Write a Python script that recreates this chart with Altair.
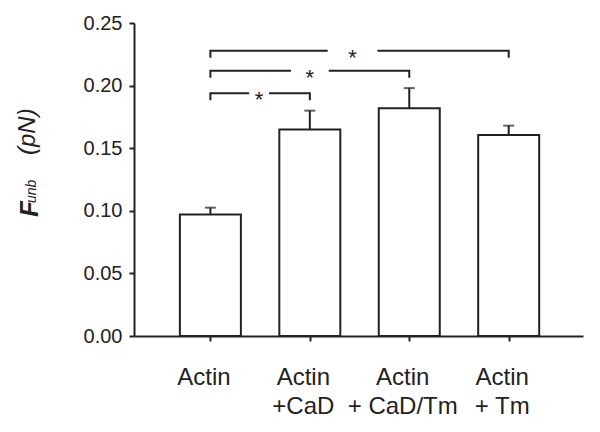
import altair as alt
import pandas as pd

# ---- data ----
groups = ["Actin", "Actin|+CaD", "Actin|+ CaD/Tm", "Actin|+ Tm"]
means = [0.097, 0.165, 0.182, 0.1605]
errors = [0.0055, 0.015, 0.016, 0.0075]

# significance brackets, all starting at group 0
bracket_to = [1, 2, 3]
bracket_level = [0.1938, 0.2119, 0.2279]
star_pos = [0.49, 1.0, 1.43]
gap_half = [0.10, 0.19, 0.25]
drop = 0.0056

y_ticks = [0.0, 0.05, 0.10, 0.15, 0.20, 0.25]

FONT = "Liberation Sans"
INK = "#222222"

# ---- tables ----
bars_df = pd.DataFrame({
    "i": list(range(len(groups))),
    "mean": means,
    "top": [m + e for m, e in zip(means, errors)],
})

rows = []
for k, (j, lvl, s, g) in enumerate(zip(bracket_to, bracket_level, star_pos, gap_half)):
    rows += [
        {"seg": f"{k}L", "o": 0, "x": 0, "y": lvl - drop},
        {"seg": f"{k}L", "o": 1, "x": 0, "y": lvl},
        {"seg": f"{k}L", "o": 2, "x": s - g, "y": lvl},
        {"seg": f"{k}R", "o": 0, "x": s + g, "y": lvl},
        {"seg": f"{k}R", "o": 1, "x": j, "y": lvl},
        {"seg": f"{k}R", "o": 2, "x": j, "y": lvl - drop},
    ]
br_df = pd.DataFrame(rows)
stars_df = pd.DataFrame({"x": star_pos, "y": bracket_level})

# ---- scales & axes ----
xscale = alt.Scale(domain=[-0.718, 3.697], nice=False, zero=False)
yscale = alt.Scale(domain=[0, 0.25], nice=False, zero=True)

label_expr = "split(" + "[" + ",".join("'" + g + "'" for g in groups) + "][datum.value], '|')"

xaxis = alt.Axis(
    values=[0, 1, 2, 3], labelExpr=label_expr, title=None, grid=False,
    tickSize=5, tickWidth=2, tickColor=INK, domainWidth=2, domainColor=INK,
    labelFont=FONT, labelFontSize=24, labelColor=INK, labelLineHeight=29,
    labelPadding=24, labelOffset=-7, labelFlush=False, labelOverlap=False,
    labelBaseline="top",
)
yaxis = alt.Axis(
    values=y_ticks, format=".2f", title=None, grid=False,
    tickSize=5, tickWidth=2, tickColor=INK, domainWidth=2, domainColor=INK,
    labelFont=FONT, labelFontSize=20, labelColor=INK, labelPadding=7,
    labelFlush=False, labelOverlap=False,
)


def X(f):
    return alt.X(f, type="quantitative", scale=xscale, axis=xaxis)


def Y(f):
    return alt.Y(f, type="quantitative", scale=yscale, axis=yaxis)


bars = alt.Chart(bars_df).mark_bar(
    orient="vertical", size=61, fill="white", stroke=INK, strokeWidth=2
).encode(x=X("i"), y=Y("mean"), y2=alt.datum(0))

stems = alt.Chart(bars_df).mark_rule(color=INK, strokeWidth=2).encode(
    x=X("i"), y=Y("mean"), y2="top:Q"
)
caps = alt.Chart(bars_df).mark_tick(
    orient="horizontal", size=11, thickness=2, color=INK
).encode(x=X("i"), y=Y("top"))

brackets = alt.Chart(br_df).mark_line(color=INK, strokeWidth=2).encode(
    x=X("x"), y=Y("y"), detail="seg:N", order="o:Q"
)
stars = alt.Chart(stars_df).mark_text(
    text="*", font=FONT, fontSize=22, color=INK, baseline="alphabetic", dy=14
).encode(x=X("x"), y=Y("y"))

one = pd.DataFrame({"a": [0]})
t_F = alt.Chart(one).mark_text(
    text="F", font=FONT, fontSize=26, fontStyle="italic", fontWeight="bold",
    angle=270, align="left", baseline="alphabetic", color=INK
).encode(x=alt.value(-96.5), y=alt.value(194))
t_sub = alt.Chart(one).mark_text(
    text="unb", font=FONT, fontSize=14, fontStyle="italic",
    angle=270, align="left", baseline="alphabetic", color=INK
).encode(x=alt.value(-98), y=alt.value(180))
t_unit = alt.Chart(one).mark_text(
    text="(pN)", font=FONT, fontSize=24, fontStyle="italic",
    angle=270, align="left", baseline="alphabetic", color=INK
).encode(x=alt.value(-99), y=alt.value(132))

chart = alt.layer(
    bars, stems, caps, brackets, stars, t_F, t_sub, t_unit
).properties(
    width=449, height=313,
    padding={"left": 126, "top": 15, "right": 9, "bottom": 88},
    autosize=alt.AutoSizeParams(type="none"),
    background="white",
).configure_view(stroke=None)

chart.save("out.html", embed_options={"renderer": "svg", "actions": False})
